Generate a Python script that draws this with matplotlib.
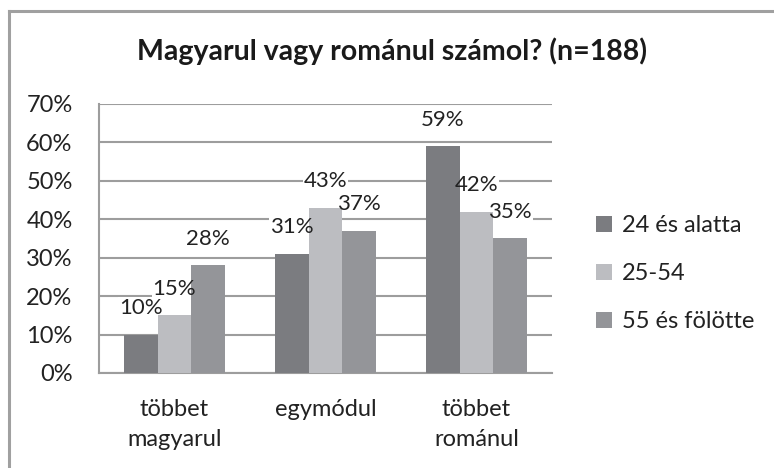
import numpy as np
import matplotlib.pyplot as plt
from matplotlib.lines import Line2D

categories = ['többet\nmagyarul', 'egymódul', 'többet\nrománul']
groups = ['24 és alatta', '25-54', '55 és fölötte']
values = [
    [10, 31, 59],   # 24 és alatta
    [15, 43, 42],   # 25-54
    [28, 37, 35],   # 55 és fölötte
]
colors = ['#7b7c80', '#bcbdc1', '#949599']
yticks = [0, 10, 20, 30, 40, 50, 60, 70]

plt.rcParams['font.family'] = ['Lato', 'DejaVu Sans']

fig = plt.figure(figsize=(7.74, 4.68), dpi=100)
ax = fig.add_axes([0.1279, 0.203, 0.5853, 0.5748])

# outer chart frame (only top and left edges are visible)
fig.add_artist(Line2D([0.011, 1.0], [0.976, 0.976], transform=fig.transFigure,
                      color='#a0a0a0', linewidth=2.2))
fig.add_artist(Line2D([0.011, 0.011], [0.0, 0.976], transform=fig.transFigure,
                      color='#a0a0a0', linewidth=2.2))

x = np.arange(len(categories))
w = 0.223
for i, (g, vals) in enumerate(zip(groups, values)):
    xs = x + (i - 1) * w
    ax.bar(xs, vals, width=w, color=colors[i], label=g, zorder=3)
    for xi, v in zip(xs, vals):
        # white box behind the label cuts the gridlines, but stays under the bars
        ax.annotate(f'{v}%', (xi, v), xytext=(0, 19), textcoords='offset points',
                    ha='center', va='center', fontsize=16, color='none', zorder=2.5,
                    bbox=dict(boxstyle='square,pad=0.05', facecolor='white', edgecolor='none'))
        ax.annotate(f'{v}%', (xi, v), xytext=(0, 19), textcoords='offset points',
                    ha='center', va='center', fontsize=16, color='#222222', zorder=4)

ax.set_xlim(-0.5, 2.5)
ax.set_ylim(0, 70)
ax.set_yticks(yticks)
ax.set_yticklabels([f'{t}%' for t in yticks])
ax.set_xticks(x)
ax.set_xticklabels(categories, linespacing=1.5)
ax.tick_params(axis='y', length=0, pad=19, labelsize=17, labelcolor='#222222')
ax.tick_params(axis='x', length=0, pad=19, labelsize=17, labelcolor='#222222')

ax.grid(axis='y', color='#9d9d9d', linewidth=1.5, zorder=0)
for s in ['top', 'right']:
    ax.spines[s].set_visible(False)
for s in ['left', 'bottom']:
    ax.spines[s].set_color('#9d9d9d')
    ax.spines[s].set_linewidth(1.5)

fig.text(0.507, 0.891, 'Magyarul vagy románul számol? (n=188)', ha='center', va='center',
         fontsize=20.5, fontweight='bold', color='#1a1a1a')

leg = fig.legend(loc='center left', bbox_to_anchor=(0.742, 0.415), frameon=False,
                 fontsize=17, handlelength=0.7, handleheight=0.7, handletextpad=0.4,
                 labelspacing=1.15, labelcolor='#222222')

plt.savefig('out.png', dpi=100)
